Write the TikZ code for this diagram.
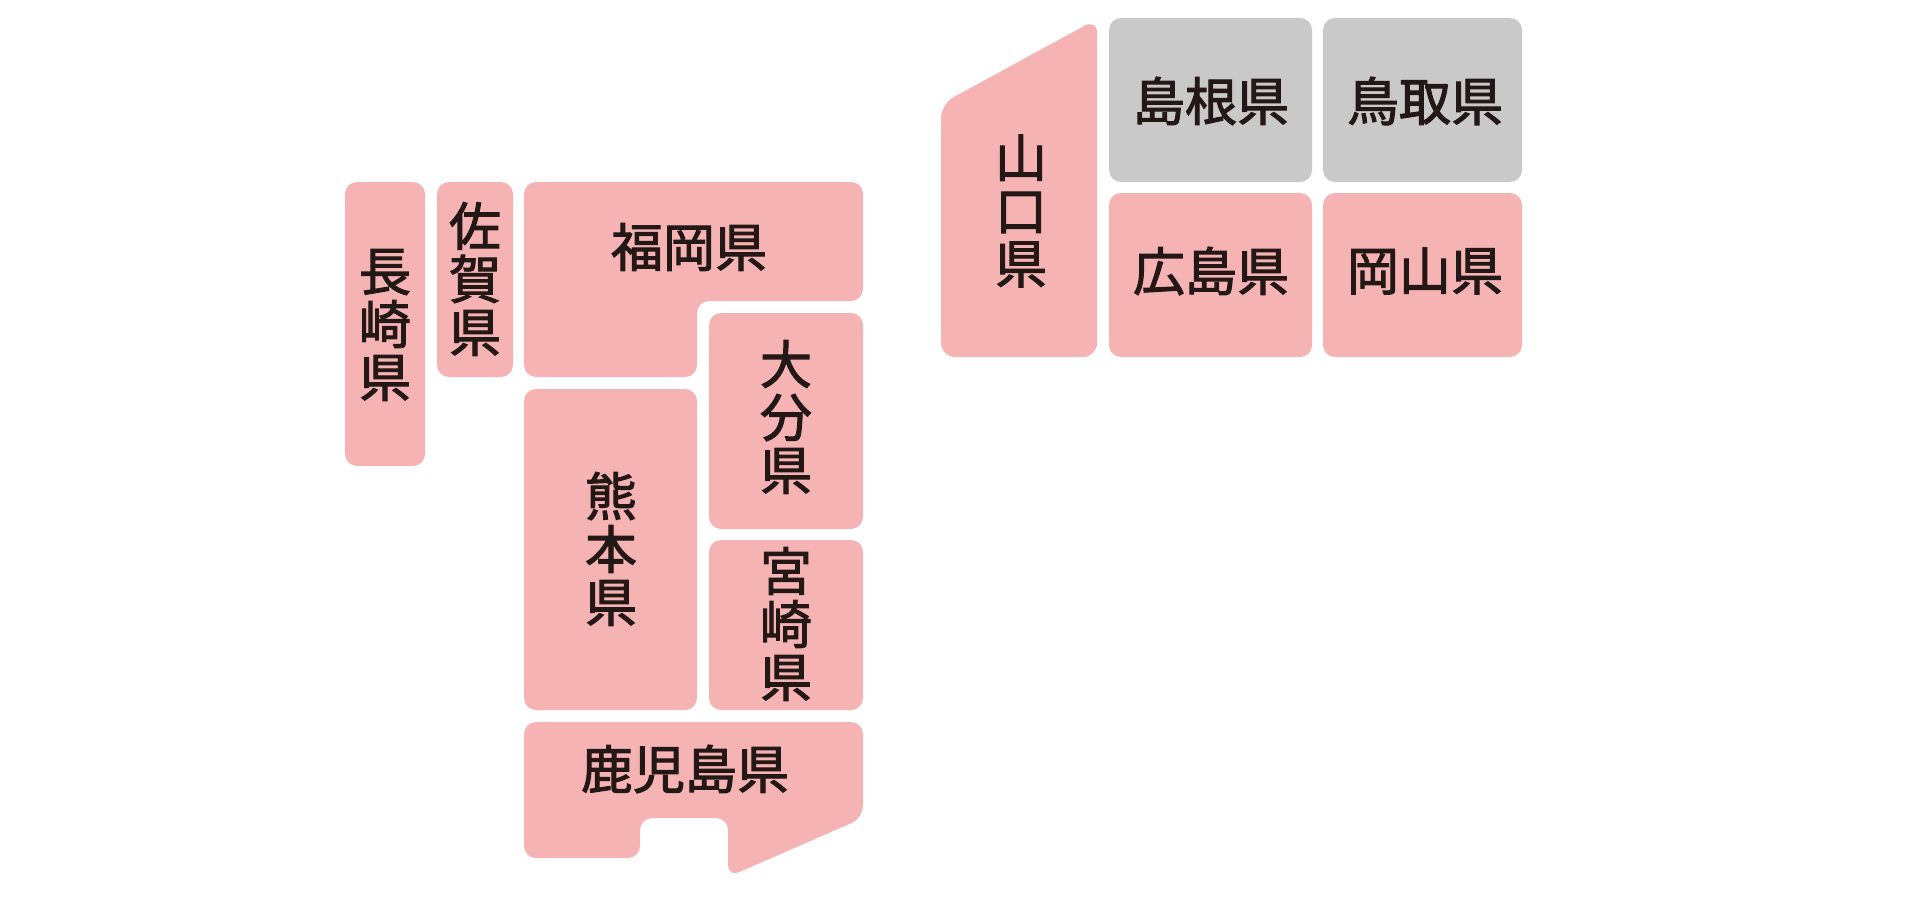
\documentclass[tikz,border=0pt]{standalone}
\usepackage{fontspec}
\newfontfamily\cjk{Noto Sans CJK JP}[FakeBold=2]
\definecolor{pinkfill}{HTML}{F5B3B4}
\definecolor{grayfill}{HTML}{C9C9C9}
\definecolor{inkcol}{HTML}{231815}
\tikzset{
  pref/.style={fill=pinkfill, rounded corners=12pt},
  prefg/.style={fill=grayfill, rounded corners=12pt},
  lbl/.style={font=\cjk\fontsize{52}{53}\selectfont, text=inkcol, inner sep=0pt, align=center},
}
\begin{document}
\begin{tikzpicture}[x=1pt,y=-1pt]
\useasboundingbox (0,0) rectangle (1920,899);
% Kyushu
\fill[pref] (345,182) rectangle (425,466);
\fill[pref] (437,182) rectangle (513,377);
\fill[pref] (524,182) -- (863,182) -- (863,301) -- (697,301) -- (697,377) -- (524,377) -- cycle;
\fill[pref] (524,389) rectangle (697,710);
\fill[pref] (709,313) rectangle (863,529);
\fill[pref] (709,540) rectangle (863,710);
\fill[pref] (524,722) -- (863,722) -- (863,818) -- (728,877) -- (728,818) -- (640,818) -- (640,858) -- (524,858) -- cycle;
% Chugoku
\fill[pinkfill, rounded corners=14pt] (941,357) -- (941,104) -- (1097,19) -- (1097,357) -- cycle;
\fill[prefg] (1109,18) rectangle (1312,182);
\fill[prefg] (1323,18) rectangle (1522,182);
\fill[pref] (1109,193) rectangle (1312,357);
\fill[pref] (1323,193) rectangle (1522,357);
% labels
\node[lbl] (nagasaki) at (385,325) {長\\崎\\県};
\node[lbl] (saga) at (475,279) {佐\\賀\\県};
\node[lbl] (fukuoka) at (689,247) {福岡県};
\node[lbl] (kumamoto) at (611,549) {熊\\本\\県};
\node[lbl] (oita) at (786,417) {大\\分\\県};
\node[lbl] (miyazaki) at (786,624) {宮\\崎\\県};
\node[lbl] (kagoshima) at (685,769) {鹿児島県};
\node[lbl] (yamaguchi) at (1021,211) {山\\口\\県};
\node[lbl] (shimane) at (1211,101) {島根県};
\node[lbl] (tottori) at (1425,101) {鳥取県};
\node[lbl] (hiroshima) at (1211,271) {広島県};
\node[lbl] (okayama) at (1425,271) {岡山県};
\end{tikzpicture}
\end{document}
